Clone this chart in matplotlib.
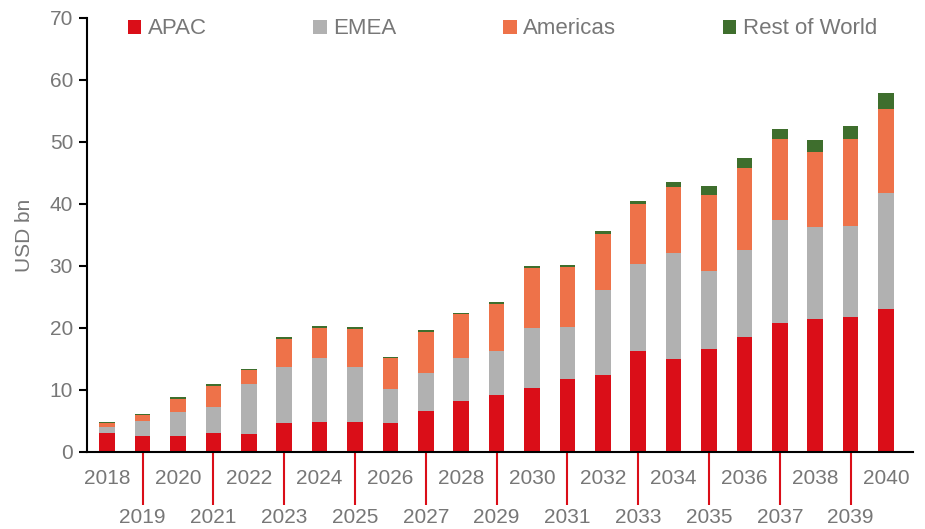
import numpy as np
import matplotlib
matplotlib.use("Agg")
import matplotlib.pyplot as plt

years = [str(y) for y in range(2018, 2041)]
apac = [3.0, 2.65, 2.5, 3.0, 2.9, 4.6, 4.9, 4.9, 4.65, 6.55, 8.15, 9.15,
        10.25, 11.75, 12.4, 16.25, 15.05, 16.6, 18.55, 20.8, 21.5, 21.8, 23.1]
emea = [1.1, 2.4, 3.9, 4.25, 8.05, 9.1, 10.2, 8.8, 5.45, 6.15, 7.0, 7.1,
        9.8, 8.45, 13.75, 14.15, 17.1, 12.65, 14.1, 16.55, 14.8, 14.6, 18.6]
americas = [0.5, 0.9, 2.2, 3.4, 2.2, 4.55, 4.9, 6.1, 5.0, 6.65, 7.05, 7.65,
            9.55, 9.6, 9.05, 9.6, 10.6, 12.15, 13.2, 13.15, 12.15, 14.1, 13.65]
rest = [0.2, 0.25, 0.2, 0.25, 0.2, 0.3, 0.25, 0.3, 0.2, 0.35, 0.25, 0.3,
        0.4, 0.4, 0.45, 0.45, 0.85, 1.45, 1.5, 1.6, 1.85, 2.1, 2.6]

series = [("APAC", apac, "#DA0E18"),
          ("EMEA", emea, "#B1B1B1"),
          ("Americas", americas, "#EE7249"),
          ("Rest of World", rest, "#3E6E2D")]

plt.rcParams["font.family"] = ["Liberation Sans", "DejaVu Sans"]
grey = "#777777"

fig = plt.figure(figsize=(9.25, 5.29), dpi=100)
ax = fig.add_axes([0.094, 0.1456, 0.893, 0.8204])

x = np.arange(len(years))
bottom = np.zeros(len(years))
for name, vals, col in series:
    ax.bar(x, vals, 0.44, bottom=bottom, color=col, label=name)
    bottom += np.array(vals)

ax.set_xlim(-0.57, len(years) - 1 + 0.76)
ax.set_ylim(0, 70)
ax.set_yticks(range(0, 71, 10))
ax.tick_params(axis="y", labelsize=15, colors="black", labelcolor=grey,
               length=6, width=1.5, pad=4)

# even years on the first row, odd years lower with long red ticks
ax.set_xticks(x[::2])
ax.set_xticklabels(years[::2])
ax.set_xticks(x[1::2], minor=True)
ax.set_xticklabels(years[1::2], minor=True)
ax.tick_params(axis="x", which="major", length=0, pad=12.5, labelsize=15,
               labelcolor=grey)
ax.tick_params(axis="x", which="minor", length=38, width=1.5, color="#DA0E18",
               pad=2.5, labelsize=15, labelcolor=grey)

for s in ["top", "right"]:
    ax.spines[s].set_visible(False)
for s in ["left", "bottom"]:
    ax.spines[s].set_linewidth(1.5)

ax.set_ylabel("USD bn", fontsize=15, color=grey, labelpad=11)

leg = ax.legend(ncol=4, loc="upper left", bbox_to_anchor=(0.025, 1.045),
                frameon=False, fontsize=16, handlelength=0.6,
                handleheight=0.6, handletextpad=0.3, columnspacing=4.8)
for t in leg.get_texts():
    t.set_color(grey)

fig.savefig("out.png", dpi=100)
